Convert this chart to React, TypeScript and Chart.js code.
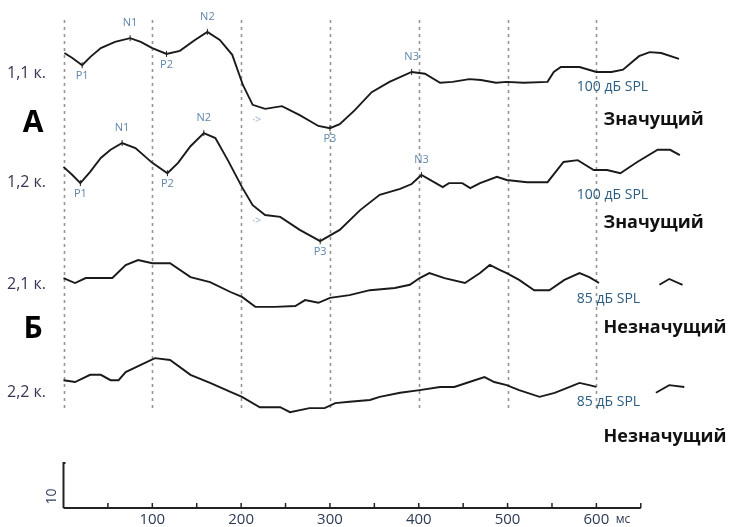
import React, { useEffect, useRef } from "react";
import { Chart, registerables } from "chart.js";

Chart.register(...registerables);

// ---- data (ms, µV; positive drawn upward) ----
const trace11Ms = [1, 10, 21, 30, 42, 58, 75, 87, 100, 116, 131, 148, 162, 176, 190, 202, 213, 227, 246, 266, 287, 300, 311, 328, 347, 367, 392, 407, 424, 438, 457, 470, 487, 499, 518, 545, 552, 560, 581, 600, 617, 630, 648, 660, 673, 693];
const trace11Uv = [4.1, 3.0, 1.4, 3.2, 5.2, 6.6, 7.4, 6.6, 5.2, 3.9, 4.6, 7.0, 8.8, 7.0, 3.7, -3.0, -7.4, -8.3, -7.7, -9.7, -12.1, -12.6, -11.7, -8.6, -4.6, -2.3, -0.1, -0.5, -2.5, -2.3, -1.7, -1.9, -2.5, -2.3, -2.5, -2.3, -0.1, 1.0, 1.0, -0.1, -0.1, 0.4, 3.4, 4.3, 4.1, 2.8];

const trace12Ms = [0, 10, 19, 30, 42, 53, 66, 81, 100, 117, 129, 143, 158, 171, 185, 201, 213, 227, 244, 266, 289, 311, 334, 356, 379, 392, 403, 427, 434, 449, 458, 469, 488, 499, 522, 545, 563, 579, 597, 612, 627, 646, 669, 683, 694];
const trace12Uv = [2.8, 1.0, -0.8, 1.7, 4.8, 6.6, 8.1, 7.0, 3.7, 1.4, 3.7, 7.4, 10.3, 9.2, 4.3, -1.7, -5.7, -7.9, -8.3, -11.2, -13.7, -11.2, -6.8, -3.4, -2.1, -1.0, 1.0, -1.7, -0.8, -0.8, -1.9, -0.8, 0.6, -0.1, -0.6, -0.6, 3.9, 4.3, 2.1, 2.1, 1.4, 3.9, 6.6, 6.6, 5.4];

const trace21Ms = [0, 13, 25, 55, 70, 84, 100, 120, 143, 165, 188, 201, 216, 238, 261, 272, 287, 300, 322, 345, 373, 390, 401, 412, 429, 452, 469, 480, 491, 499, 513, 530, 547, 564, 581, 592, 603, null, 671, 682, 697];
const trace21Uv = [1.1, 0, 1.1, 1.1, 4.0, 5.1, 4.4, 4.4, 1.3, 0.2, -2.0, -3.1, -5.3, -5.3, -5.1, -3.8, -4.4, -3.3, -2.7, -1.6, -1.1, -0.4, 1.1, 2.2, 1.1, 0, 2.2, 4.0, 2.9, 2.2, 0.7, -1.6, -1.6, 0.7, 2.2, 1.3, 0, null, -0.4, 0.9, -0.4];

const trace22Ms = [0, 13, 30, 42, 53, 62, 70, 87, 103, 120, 143, 165, 188, 201, 221, 244, 255, 277, 294, 306, 322, 345, 356, 379, 401, 424, 440, 457, 474, 485, 499, 513, 536, 553, 570, 581, 592, 600, null, 667, 682, 699];
const trace22Uv = [1.4, 1.0, 2.6, 2.6, 1.4, 1.4, 3.2, 4.8, 6.3, 5.9, 2.6, 0.8, -1.2, -2.3, -4.6, -4.6, -5.7, -4.8, -4.8, -3.7, -3.4, -3.0, -2.3, -1.4, -0.8, -0.1, -0.1, 1.0, 2.1, 1.0, 0.3, -0.8, -2.3, -1.4, -0.1, 0.8, 0.3, -0.1, null, -1.4, 0.3, -0.1];

const traceNames = ["1,1 к.", "1,2 к.", "2,1 к.", "2,2 к."];
const traceOffsets = [97, 73, 50, 27];
const levelLabels = ["100 дБ SPL", "100 дБ SPL", "85 дБ SPL", "85 дБ SPL"];
const verdictLabels = ["Значущий", "Значущий", "Незначущий", "Незначущий"];
const groupLabels = ["А", "Б"];

// peak markers: trace index, label, latency (ms), side (1 above, -1 below)
const peakTrace = [0, 0, 0, 0, 0, 0, 1, 1, 1, 1, 1, 1];
const peakNames = ["P1", "N1", "P2", "N2", "P3", "N3", "P1", "N1", "P2", "N2", "P3", "N3"];
const peakMs = [21, 75, 116, 162, 300, 392, 19, 66, 117, 158, 289, 403];
const peakSide = [-1, 1, -1, 1, -1, 1, -1, 1, -1, 1, -1, 1];

const gridMs = [0, 100, 200, 300, 400, 500, 600];
const axisTickMs = [50, 100, 150, 200, 250, 300, 350, 400, 450, 500, 550, 600, 650];
const axisLabelMs = [100, 200, 300, 400, 500, 600];
const axisUnit = "мс";
const scaleBarUv = 10;

const allMs = [trace11Ms, trace12Ms, trace21Ms, trace22Ms];
const allUv = [trace11Uv, trace12Uv, trace21Uv, trace22Uv];

// label nudges (px)
const nameDy = [2, 3, 1, 6];
const verdictDy = [48, 43, 45, 50];
const groupDy = [-2, -5];

function interp(ms: number[], uv: number[], t: number): number {
  for (let i = 0; i < ms.length - 1; i++) {
    const a = ms[i], b = ms[i + 1];
    if (a == null || b == null) continue;
    if (t >= a && t <= b) {
      const f = b === a ? 0 : (t - a) / (b - a);
      return uv[i] + f * (uv[i + 1] - uv[i]);
    }
  }
  return 0;
}

const FONT = "'Open Sans', 'DejaVu Sans', sans-serif";

const overlay = {
  id: "erpOverlay",
  beforeDatasetsDraw(chart: any) {
    const ctx = chart.ctx;
    const xs = chart.scales.x;
    ctx.save();
    ctx.strokeStyle = "#959595";
    ctx.lineWidth = 1.6;
    ctx.setLineDash([3, 4]);
    for (const g of gridMs) {
      const px = Math.round(xs.getPixelForValue(g)) + 0.5;
      ctx.beginPath();
      ctx.moveTo(px, 20);
      ctx.lineTo(px, 408);
      ctx.stroke();
    }
    ctx.restore();
  },
  afterDatasetsDraw(chart: any) {
    const ctx = chart.ctx;
    const xs = chart.scales.x;
    const ys = chart.scales.y;
    ctx.save();
    // axis
    const y0 = ys.getPixelForValue(0);
    const x0 = xs.getPixelForValue(0);
    const xEnd = xs.getPixelForValue(650);
    ctx.strokeStyle = "#222";
    ctx.lineWidth = 2;
    ctx.beginPath();
    ctx.moveTo(x0, y0);
    ctx.lineTo(xEnd, y0);
    ctx.stroke();
    ctx.lineWidth = 1.5;
    for (const t of axisTickMs) {
      const px = xs.getPixelForValue(t);
      ctx.beginPath();
      ctx.moveTo(px, y0);
      ctx.lineTo(px, y0 - 5);
      ctx.stroke();
    }
    // scale bar
    const yTop = ys.getPixelForValue(scaleBarUv);
    ctx.lineWidth = 2;
    ctx.beginPath();
    ctx.moveTo(x0 + 2, yTop);
    ctx.lineTo(x0, yTop);
    ctx.lineTo(x0, y0);
    ctx.stroke();
    ctx.fillStyle = "#2d3a55";
    ctx.font = "15px " + FONT;
    ctx.textAlign = "center";
    ctx.textBaseline = "middle";
    for (const l of axisLabelMs) {
      ctx.fillText(String(l), xs.getPixelForValue(l), y0 + 12);
    }
    ctx.font = "12px " + FONT;
    ctx.fillText(axisUnit, xs.getPixelForValue(630), y0 + 12);
    ctx.save();
    ctx.translate(x0 - 11, (yTop + y0) / 2 + 11);
    ctx.rotate(-Math.PI / 2);
    ctx.font = "14px " + FONT;
    ctx.fillText(String(scaleBarUv), 0, 0);
    ctx.restore();

    // trace names and right labels
    for (let i = 0; i < traceNames.length; i++) {
      const base = ys.getPixelForValue(traceOffsets[i]);
      ctx.fillStyle = "#3a3456";
      ctx.font = "16px " + FONT;
      ctx.textAlign = "left";
      ctx.fillText(traceNames[i], 7, base + nameDy[i]);
      ctx.fillStyle = "#2c5d80";
      ctx.font = "14px " + FONT;
      ctx.fillText(levelLabels[i], xs.getPixelForValue(578), base + 16);
      ctx.fillStyle = "#111";
      ctx.font = "bold 18px " + FONT;
      ctx.fillText(verdictLabels[i], xs.getPixelForValue(608), base + verdictDy[i]);
    }
    // group labels
    ctx.fillStyle = "#000";
    ctx.font = "bold 30px " + FONT;
    ctx.textAlign = "center";
    for (let g = 0; g < groupLabels.length; g++) {
      const mid = (traceOffsets[g * 2] + traceOffsets[g * 2 + 1]) / 2;
      ctx.fillText(groupLabels[g], 33, ys.getPixelForValue(mid) + groupDy[g]);
    }
    // peaks
    ctx.font = "11px " + FONT;
    for (let k = 0; k < peakNames.length; k++) {
      const tr = peakTrace[k];
      const v = interp(allMs[tr], allUv[tr], peakMs[k]) + traceOffsets[tr];
      const px = xs.getPixelForValue(peakMs[k]);
      const py = ys.getPixelForValue(v);
      ctx.strokeStyle = "#222";
      ctx.lineWidth = 1;
      ctx.beginPath();
      ctx.moveTo(px, py - 3);
      ctx.lineTo(px, py + 3);
      ctx.stroke();
      ctx.fillStyle = "#5f86aa";
      ctx.fillText(peakNames[k], px, py - (peakSide[k] > 0 ? 15 : -11));
    }
    // small arrow markers after N2
    ctx.fillStyle = "#9ab3cc";
    for (let tr = 0; tr < 2; tr++) {
      const t = 212;
      const v = interp(allMs[tr], allUv[tr], t) + traceOffsets[tr];
      ctx.fillText("·>", xs.getPixelForValue(t) + 5, ys.getPixelForValue(v) + 17);
    }
    ctx.restore();
  },
};

export default function App() {
  const ref = useRef<HTMLCanvasElement | null>(null);
  useEffect(() => {
    if (!ref.current) return;
    const datasets = allMs.map((ms, i) => ({
      label: traceNames[i],
      data: ms.map((m, j) => (m == null ? { x: null, y: null } : { x: m, y: allUv[i][j] + traceOffsets[i] })),
      borderColor: "#1a1a1a",
      borderWidth: 1.9,
      pointRadius: 0,
      tension: 0,
      spanGaps: false,
      clip: false,
    }));
    const chart = new Chart(ref.current, {
      type: "line",
      data: { datasets: datasets as any },
      options: {
        animation: false,
        responsive: false,
        maintainAspectRatio: false,
        events: [],
        layout: { padding: { left: 63.5, right: 730 - 685.2, top: 13, bottom: 19 } },
        plugins: { legend: { display: false }, tooltip: { enabled: false } },
        scales: {
          x: { type: "linear", min: 0, max: 700, display: false },
          y: { type: "linear", min: 0, max: 110, display: false },
        },
      },
      plugins: [overlay],
    });
    return () => chart.destroy();
  }, []);
  return (
    <div style={{ position: "fixed", left: 0, top: 0, width: 730, height: 527, background: "#fff" }}>
      <canvas ref={ref} width={730} height={527} style={{ width: 730, height: 527 }} />
    </div>
  );
}
